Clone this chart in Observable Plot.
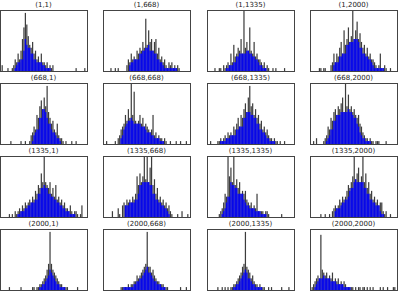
<!DOCTYPE html>
<html>
<head>
<meta charset="utf-8">
<script src="https://cdn.jsdelivr.net/npm/d3@7"></script>
<script src="https://cdn.jsdelivr.net/npm/@observablehq/plot@0.6"></script>
<style>
  html, body { margin: 0; padding: 0; background: #fff; }
  #fig { position: relative; width: 399px; height: 296px; overflow: hidden; font-family: "DejaVu Sans", sans-serif; }
  .ttl { position: absolute; font-size: 7px; color: #222; text-align: center; white-space: nowrap; line-height: 1; }
  .pnl { position: absolute; }
</style>
</head>
<body>
<div id="fig"></div>
<script>
// grid labels (rows, columns)
const rowLabels = [1, 668, 1335, 2000];
const colLabels = [1, 668, 1335, 2000];

// histogram counts per panel (60 bins each)
const h_1_1 = [0,2,0,0,0,1,0,0,1,2, 4,3,6,4,7,11,15,20,16,12, 9,8,10,6,7,4,5,3,6,3, 3,2,3,1,2,1,2,0,0,0, 0,0,0,0,0,0,0,0,0,0, 0,0,1,0,0,0,0,0,1,0];
const h_1_668 = [0,0,0,0,0,1,0,0,1,0, 1,0,0,0,0,0,2,4,3,6, 4,5,4,7,6,8,7,10,8,18, 9,14,10,11,7,10,11,6,8,4, 5,3,4,2,1,3,2,3,1,2, 1,2,1,0,0,0,0,0,0,0];
const h_1_1335 = [0,0,0,0,0,1,0,0,1,1, 0,2,1,2,3,2,6,3,9,5, 6,8,7,11,6,21,8,10,7,15, 7,6,10,5,6,4,4,3,2,3, 1,2,1,0,0,1,0,1,0,0, 0,0,0,1,0,0,0,0,0,0];
const h_1_2000 = [0,0,0,0,0,0,1,1,0,1, 1,0,0,0,2,3,6,3,6,5, 8,10,6,14,9,11,15,10,12,21, 11,14,17,11,13,10,8,9,6,8, 5,6,4,4,3,2,1,2,6,1, 1,2,1,0,0,1,0,0,0,0];
const h_668_1 = [0,0,0,0,0,0,0,1,0,0, 0,0,0,0,1,0,0,1,0,0, 1,3,4,6,5,10,9,13,15,12, 16,13,20,11,9,7,8,5,4,7, 3,2,2,1,0,1,0,0,0,1, 0,0,1,0,0,0,0,0,0,0];
const h_668_668 = [0,0,1,0,0,0,0,0,1,0, 2,3,5,6,7,10,8,12,9,21, 10,18,8,7,8,10,7,9,6,7, 6,5,4,5,10,3,4,2,3,2, 2,1,2,1,0,0,1,0,0,0, 1,0,0,1,0,0,0,1,0,0];
const h_668_1335 = [0,0,1,0,0,0,0,1,1,2, 1,2,3,2,4,3,4,3,6,5, 7,9,6,10,9,12,14,11,16,20, 13,14,10,12,9,10,7,8,5,6, 4,5,3,2,2,1,2,1,1,0, 1,0,0,1,0,0,0,0,0,0];
const h_668_2000 = [0,0,1,0,2,0,0,0,0,1, 2,3,6,5,9,8,11,12,10,13, 12,14,16,11,21,13,17,12,13,11, 12,10,9,10,7,6,4,3,2,2, 1,2,1,1,0,1,1,1,0,0, 0,0,1,0,0,0,0,0,0,0];
const h_1335_1 = [0,0,0,0,0,0,1,0,1,0, 2,1,2,3,2,4,3,5,4,5, 6,5,7,6,9,8,11,10,15,12, 21,12,11,10,12,8,10,7,11,6, 7,5,6,4,5,3,3,2,4,2, 1,2,2,1,0,1,4,0,0,0];
const h_1335_668 = [0,0,0,0,0,0,2,0,0,0, 3,1,0,4,5,4,6,5,6,5, 7,6,8,14,11,15,12,14,21,13, 21,12,17,21,11,13,8,10,6,7, 5,6,4,5,3,4,2,1,0,0, 0,1,0,0,2,0,0,0,1,0];
const h_1335_1335 = [0,0,0,0,0,0,0,0,1,2, 3,5,8,7,21,14,17,12,21,11, 13,10,12,8,9,8,9,6,5,4, 5,3,4,3,8,2,2,2,2,1, 2,2,1,0,0,0,0,0,0,0, 0,1,0,0,0,0,0,0,0,0];
const h_1335_2000 = [0,0,0,0,0,0,0,1,0,0, 1,0,0,1,0,2,3,4,3,4, 6,5,7,6,7,9,11,10,12,14, 21,13,15,17,12,14,21,12,15,10, 12,8,9,6,7,5,6,4,5,5, 2,1,2,0,0,1,0,0,0,0];
const h_2000_1 = [0,0,0,0,0,0,1,0,0,0, 0,0,0,0,1,0,0,0,0,0, 0,0,1,1,0,1,1,2,2,3, 4,5,7,9,20,9,7,6,5,4, 3,2,2,1,1,1,1,0,0,0, 0,0,0,1,0,0,0,0,0,0];
const h_2000_668 = [0,0,0,0,0,0,0,0,0,0, 0,0,1,1,1,1,1,2,1,2, 2,3,3,5,4,5,6,7,8,9, 20,8,8,6,7,5,4,3,3,2, 2,2,1,1,1,0,0,0,0,0, 0,0,0,1,0,0,0,1,0,0];
const h_2000_1335 = [0,0,0,0,0,0,0,1,0,0, 1,0,1,0,1,0,1,1,2,2, 3,4,5,6,8,9,20,8,7,6, 4,5,3,2,2,1,2,1,1,1, 0,0,1,0,1,0,0,0,0,0, 0,1,0,0,0,0,1,0,0,0];
const h_2000_2000 = [0,1,2,3,4,5,4,19,7,6, 5,6,4,5,4,6,3,4,3,4, 2,3,2,3,2,1,1,1,1,1, 0,1,0,1,1,0,1,1,0,1, 0,1,0,1,0,0,0,0,1,0, 1,0,0,1,0,0,0,1,1,0];

const grid = [
  [h_1_1, h_1_668, h_1_1335, h_1_2000],
  [h_668_1, h_668_668, h_668_1335, h_668_2000],
  [h_1335_1, h_1335_668, h_1335_1335, h_1335_2000],
  [h_2000_1, h_2000_668, h_2000_1335, h_2000_2000]
];
const NBINS = 60;
const YMAX = 21; // shared y scale top

const fig = document.getElementById("fig");
const panelW = 87, panelH = 61;
const colX = [0, 103, 207, 310];
const rowY = [10, 83, 156, 229];

grid.forEach((row, r) => {
  row.forEach((counts, c) => {
    const data = counts.map((v, i) => ({x1: i, x2: i + 1, y: v}));
    const svg = Plot.plot({
      width: panelW,
      height: panelH,
      margin: 0,
      x: {domain: [0, NBINS], axis: null},
      y: {domain: [0, YMAX], axis: null},
      marks: [
        // thin histogram bars: black edges dominate at this size
        Plot.rectY(data.filter(d => d.y > 0), {x1: "x1", x2: "x2", y: "y", fill: "#111", fillOpacity: 0.82, insetLeft: 0.12, insetRight: 0.12}),
        // overlapping lower part of neighbouring bars reads as solid blue
        Plot.rectY(data, Plot.windowY({k: 5, reduce: "min", anchor: "middle"}, {x1: "x1", x2: "x2", y: "y", fill: "blue", fillOpacity: 0.88})),
        Plot.frame({stroke: "#444", strokeWidth: 1})
      ]
    });
    svg.classList.add("pnl");
    svg.style.left = colX[c] + "px";
    svg.style.top = rowY[r] + "px";
    svg.style.overflow = "visible";
    fig.appendChild(svg);

    const t = document.createElement("div");
    t.className = "ttl";
    t.textContent = `(${rowLabels[r]},${colLabels[c]})`;
    t.style.left = (colX[c] + panelW / 2) + "px";
    t.style.top = (rowY[r] - 8.5) + "px";
    t.style.transform = "translateX(-50%)";
    fig.appendChild(t);
  });
});
</script>
</body>
</html>
